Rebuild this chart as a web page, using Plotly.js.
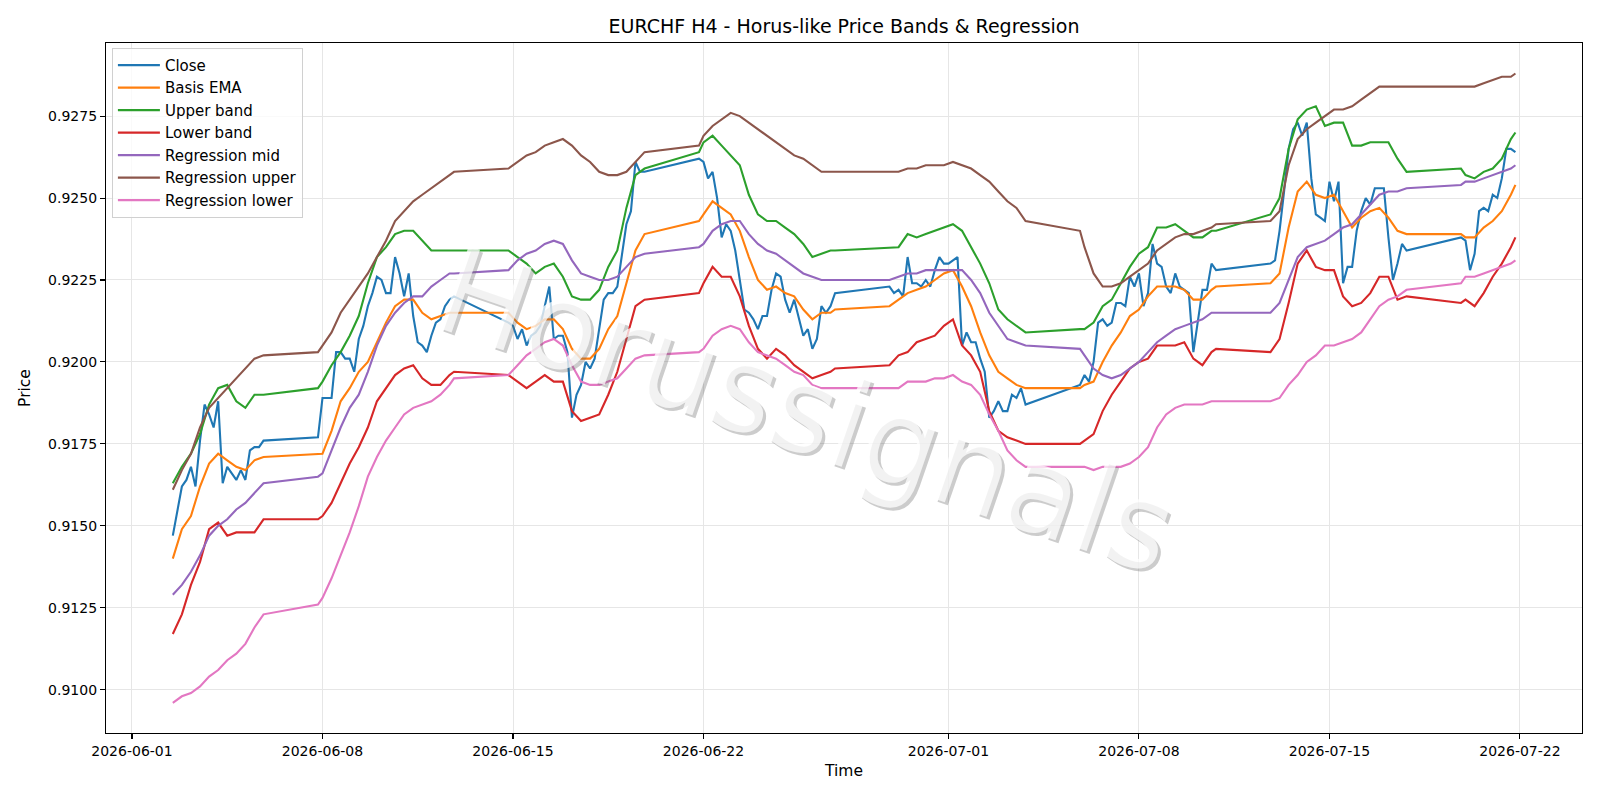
<!DOCTYPE html>
<html><head><meta charset="utf-8">
<script src="https://cdn.plot.ly/plotly-3.0.1.min.js"></script>
<style>html,body{margin:0;padding:0;background:#fff;}#chart{width:1600px;height:800px;}</style>
</head><body><div id="chart"></div>
<script>
// Trading sessions (H4 bars, continuous within a session)
const sessionStarts = ['2026-06-02T12:00:00Z','2026-06-07T20:00:00Z','2026-06-14T20:00:00Z','2026-06-21T20:00:00Z','2026-06-28T20:00:00Z','2026-07-05T20:00:00Z','2026-07-12T20:00:00Z','2026-07-19T20:00:00Z'];
const sessionBars = [21,31,31,31,31,31,31,13];

const close = [
.9147,.9155,.9162,.9164,.9168,.9162,.9176,.9187,.9184,.9180,.9188,.9163,.9168,.9166,.9164,.9167,.9164,.9173,.9174,.9174,.9176,
.9177,.9189,.9189,.9189,.9203,.9203,.9201,.9201,.9197,.9207,.9211,.9217,.9221,.9226,.9225,.9221,.9221,.9232,.9227,.9220,.9227,.9214,.9206,.9205,.9203,.9208,.9212,.9213,.9217,.9219,.9220,
.9212,.9211,.9207,.9210,.9205,.9208,.9209,.9211,.9217,.9223,.9207,.9208,.9208,.9203,.9183,.9190,.9193,.9200,.9198,.9201,.9210,.9219,.9221,.9221,.9223,.9232,.9242,.9246,.9261,.9258,.9258,
.9262,.9261,.9256,.9258,.9250,.9238,.9242,.9240,.9234,.9225,.9216,.9215,.9213,.9210,.9214,.9214,.9222,.9227,.9226,.9219,.9215,.9219,.9213,.9208,.9210,.9204,.9207,.9217,.9215,.9217,.9221,
.9223,.9221,.9222,.9220,.9232,.9224,.9224,.9223,.9225,.9223,.9228,.9232,.9230,.9230,.9231,.9232,.9205,.9209,.9206,.9206,.9201,.9197,.9183,.9185,.9188,.9185,.9185,.9190,.9189,.9192,.9187,
.9193,.9196,.9194,.9200,.9212,.9213,.9211,.9212,.9218,.9218,.9217,.9226,.9223,.9227,.9217,.9221,.9236,.9230,.9229,.9223,.9221,.9227,.9223,.9222,.9221,.9203,.9213,.9222,.9222,.9230,.9228,
.9230,.9231,.9240,.9252,.9265,.9271,.9273,.9269,.9273,.9256,.9245,.9244,.9243,.9255,.9249,.9255,.9224,.9229,.9229,.9240,.9246,.9250,.9248,.9253,.9253,.9253,.9238,.9225,.9230,.9236,.9234,
.9238,.9237,.9228,.9233,.9246,.9247,.9246,.9251,.9250,.9256,.9265,.9265,.9264
];

// Smooth series, sampled every 8h (plus session ends)
const basisEma = [
.9140,.9149,.9153,.9162,.9169,.9172,.9170,.9168,.9167,.9170,.9171,
.9172,.9172,.9179,.9188,.9192,.9197,.9200,.9206,.9212,.9217,.9219,.9219,.9215,.9213,.9214,.9215,.9215,
.9215,.9212,.9210,.9211,.9213,.9213,.9210,.9204,.9201,.9201,.9204,.9210,.9214,.9224,.9234,.9239,
.9243,.9245,.9249,.9247,.9245,.9240,.9232,.9225,.9222,.9223,.9221,.9220,.9216,.9213,.9215,.9215,.9216,
.9217,.9219,.9221,.9222,.9223,.9225,.9227,.9228,.9223,.9217,.9209,.9202,.9197,.9195,.9193,.9192,
.9192,.9193,.9194,.9200,.9205,.9209,.9214,.9216,.9220,.9223,.9223,.9223,.9222,.9219,.9219,.9222,.9223,
.9224,.9227,.9241,.9252,.9255,.9251,.9250,.9251,.9246,.9241,.9244,.9246,.9247,.9244,.9240,.9239,
.9239,.9238,.9238,.9241,.9243,.9246,.9251,.9254
];
const upperBand = [
.9163,.9168,.9172,.9178,.9187,.9192,.9193,.9188,.9186,.9190,.9190,
.9192,.9194,.9199,.9203,.9208,.9214,.9224,.9232,.9235,.9239,.9240,.9240,.9237,.9234,.9234,.9234,.9234,
.9234,.9232,.9230,.9227,.9229,.9230,.9226,.9220,.9219,.9219,.9222,.9229,.9234,.9247,.9257,.9259,
.9264,.9267,.9269,.9266,.9263,.9260,.9251,.9245,.9243,.9243,.9241,.9239,.9236,.9232,.9233,.9234,.9234,
.9235,.9235,.9239,.9238,.9239,.9240,.9241,.9242,.9240,.9235,.9230,.9224,.9216,.9213,.9211,.9209,
.9210,.9210,.9212,.9217,.9219,.9224,.9229,.9233,.9235,.9241,.9241,.9242,.9240,.9238,.9238,.9240,.9240,
.9245,.9250,.9265,.9274,.9277,.9278,.9272,.9273,.9273,.9266,.9266,.9267,.9267,.9267,.9262,.9258,
.9259,.9257,.9256,.9258,.9259,.9262,.9268,.9270
];
const lowerBand = [
.9117,.9123,.9132,.9139,.9149,.9151,.9147,.9148,.9148,.9148,.9152,
.9152,.9153,.9157,.9163,.9169,.9174,.9180,.9188,.9192,.9196,.9198,.9199,.9195,.9193,.9193,.9196,.9197,
.9196,.9194,.9192,.9194,.9196,.9194,.9194,.9185,.9182,.9183,.9184,.9190,.9197,.9207,.9217,.9219,
.9221,.9224,.9229,.9226,.9226,.9220,.9211,.9204,.9201,.9204,.9202,.9199,.9197,.9195,.9196,.9197,.9198,
.9199,.9202,.9203,.9206,.9207,.9208,.9211,.9213,.9205,.9202,.9197,.9185,.9179,.9177,.9176,.9175,
.9175,.9176,.9178,.9185,.9190,.9194,.9198,.9200,.9201,.9205,.9205,.9205,.9206,.9201,.9199,.9203,.9204,
.9203,.9207,.9218,.9230,.9234,.9229,.9228,.9228,.9220,.9217,.9218,.9221,.9226,.9226,.9219,.9220,
.9218,.9219,.9217,.9221,.9226,.9230,.9235,.9238
];
const regMid = [
.9129,.9132,.9136,.9141,.9147,.9150,.9152,.9155,.9157,.9160,.9163,
.9165,.9166,.9173,.9180,.9186,.9190,.9197,.9205,.9211,.9215,.9218,.9220,.9220,.9223,.9225,.9227,.9227,
.9228,.9231,.9233,.9234,.9236,.9237,.9236,.9231,.9227,.9226,.9225,.9225,.9226,.9229,.9232,.9233,
.9235,.9236,.9240,.9242,.9243,.9243,.9239,.9236,.9234,.9233,.9231,.9229,.9227,.9226,.9225,.9225,.9225,
.9225,.9226,.9227,.9227,.9228,.9228,.9228,.9228,.9228,.9225,.9221,.9215,.9211,.9207,.9206,.9205,
.9204,.9202,.9198,.9196,.9195,.9196,.9198,.9200,.9203,.9206,.9208,.9210,.9211,.9212,.9213,.9215,.9215,
.9215,.9218,.9225,.9232,.9235,.9236,.9237,.9239,.9241,.9242,.9245,.9248,.9251,.9252,.9252,.9253,
.9254,.9255,.9255,.9256,.9257,.9258,.9259,.9260
];
const regUpper = [
.9161,.9167,.9172,.9180,.9186,.9189,.9192,.9195,.9198,.9201,.9202,
.9203,.9205,.9209,.9215,.9219,.9223,.9227,.9232,.9237,.9243,.9246,.9249,.9251,.9253,.9255,.9257,.9258,
.9259,.9261,.9263,.9264,.9266,.9267,.9268,.9266,.9263,.9261,.9258,.9257,.9257,.9258,.9261,.9264,
.9266,.9269,.9272,.9274,.9276,.9275,.9273,.9271,.9269,.9267,.9265,.9263,.9262,.9260,.9258,.9258,.9258,
.9258,.9258,.9259,.9259,.9260,.9260,.9260,.9261,.9260,.9259,.9257,.9255,.9252,.9249,.9247,.9243,
.9240,.9235,.9227,.9223,.9223,.9224,.9226,.9228,.9230,.9234,.9236,.9238,.9239,.9239,.9240,.9241,.9242,
.9243,.9246,.9260,.9268,.9271,.9273,.9275,.9277,.9277,.9278,.9280,.9282,.9284,.9284,.9284,.9284,
.9284,.9284,.9284,.9285,.9286,.9287,.9287,.9288
];
const regLower = [
.9096,.9098,.9099,.9101,.9104,.9106,.9109,.9111,.9114,.9119,.9123,
.9126,.9128,.9134,.9141,.9148,.9156,.9165,.9171,.9176,.9180,.9184,.9186,.9187,.9188,.9190,.9193,.9195,
.9196,.9199,.9202,.9204,.9206,.9207,.9205,.9199,.9194,.9193,.9193,.9194,.9195,.9198,.9201,.9202,
.9203,.9204,.9208,.9210,.9211,.9210,.9206,.9203,.9202,.9201,.9199,.9197,.9196,.9193,.9192,.9192,.9192,
.9192,.9192,.9194,.9194,.9194,.9195,.9195,.9196,.9194,.9193,.9190,.9184,.9179,.9173,.9170,.9168,
.9168,.9168,.9167,.9168,.9168,.9168,.9169,.9171,.9174,.9180,.9184,.9186,.9187,.9187,.9187,.9188,.9188,
.9188,.9189,.9193,.9196,.9200,.9202,.9205,.9205,.9206,.9207,.9209,.9213,.9217,.9219,.9220,.9222,
.9224,.9226,.9226,.9227,.9228,.9229,.9230,.9231
];

const seriesNames = ['Close','Basis EMA','Upper band','Lower band','Regression mid','Regression upper','Regression lower'];
const seriesColors = ['#1f77b4','#ff7f0e','#2ca02c','#d62728','#9467bd','#8c564b','#e377c2'];
const xTickVals = ['2026-06-01','2026-06-08','2026-06-15','2026-06-22','2026-07-01','2026-07-08','2026-07-15','2026-07-22'];
const yTickVals = [0.9100,0.9125,0.9150,0.9175,0.9200,0.9225,0.9250,0.9275];

// Build H4 timestamps from the session table
const time = [];
const smoothIdx = [];
let gi = 0;
sessionStarts.forEach((s, si) => {
  const t0 = Date.parse(s);
  for (let k = 0; k < sessionBars[si]; k++) {
    const d = new Date(t0 + k * 4 * 3600 * 1000);
    time.push(d.toISOString().slice(0,16).replace('T',' '));
    if (gi % 2 === 0 || k === 0 || k === sessionBars[si] - 1) smoothIdx.push(gi);
    gi++;
  }
});
const smoothTime = smoothIdx.map(i => time[i]);

const ys = [close, basisEma, upperBand, lowerBand, regMid, regUpper, regLower];
const traces = ys.map((y, i) => ({
  type: 'scatter', mode: 'lines',
  x: i === 0 ? time : smoothTime,
  y: y, name: seriesNames[i],
  line: {color: seriesColors[i], width: 2.1},
  hoverinfo: 'skip'
}));

const font = {family: 'DejaVu Sans, sans-serif', color: '#000'};
const layout = {
  width: 1600, height: 800,
  margin: {l: 106, r: 18, t: 43, b: 67},
  paper_bgcolor: '#fff', plot_bgcolor: '#fff',
  font: Object.assign({size: 14}, font),
  title: {text: 'EURCHF H4 - Horus-like Price Bands & Regression', x: 0.5, xref: 'paper', xanchor: 'center',
          y: 1 - 26/800, yref: 'container', yanchor: 'middle', font: Object.assign({size: 19}, font)},
  showlegend: true,
  legend: {x: 0.004, y: 0.993, xanchor: 'left', yanchor: 'top', bgcolor: 'rgba(255,255,255,0.8)',
           bordercolor: '#d0d0d0', borderwidth: 1, itemwidth: 42, font: Object.assign({size: 15}, font)},
  xaxis: {type: 'date', range: ['2026-05-31 01:05', '2026-07-24 06:43'],
          tickvals: xTickVals, ticktext: xTickVals, tickfont: Object.assign({size: 14}, font),
          showgrid: true, gridcolor: '#e6e6e6', gridwidth: 1, zeroline: false,
          showline: true, linecolor: '#000', linewidth: 1.1, mirror: true,
          ticks: 'outside', ticklen: 5, tickwidth: 1.1, tickcolor: '#000',
          title: {text: 'Time', font: Object.assign({size: 15.5}, font), standoff: 7}},
  yaxis: {range: [0.90868, 0.92973], tickvals: yTickVals, tickformat: '.4f', tickfont: Object.assign({size: 14}, font),
          showgrid: true, gridcolor: '#e6e6e6', gridwidth: 1, zeroline: false,
          showline: true, linecolor: '#000', linewidth: 1.1, mirror: true,
          ticks: 'outside', ticklen: 5, tickwidth: 1.1, tickcolor: '#000',
          title: {text: 'Price', font: Object.assign({size: 15.5}, font), standoff: 13}},
  annotations: [
    {text: 'Horussignals', xref: 'paper', yref: 'paper', x: 0.4743, y: 0.468, xshift: 3, yshift: -3,
     showarrow: false, textangle: 19, font: {family: 'DejaVu Sans, sans-serif', size: 120, color: 'rgba(100,100,100,0.33)'}},
    {text: 'Horussignals', xref: 'paper', yref: 'paper', x: 0.4743, y: 0.468,
     showarrow: false, textangle: 19, font: {family: 'DejaVu Sans, sans-serif', size: 120, color: 'rgba(255,255,255,0.75)'}}
  ]
};

Plotly.newPlot('chart', traces, layout, {displayModeBar: false, staticPlot: true});
</script>
</body></html>
